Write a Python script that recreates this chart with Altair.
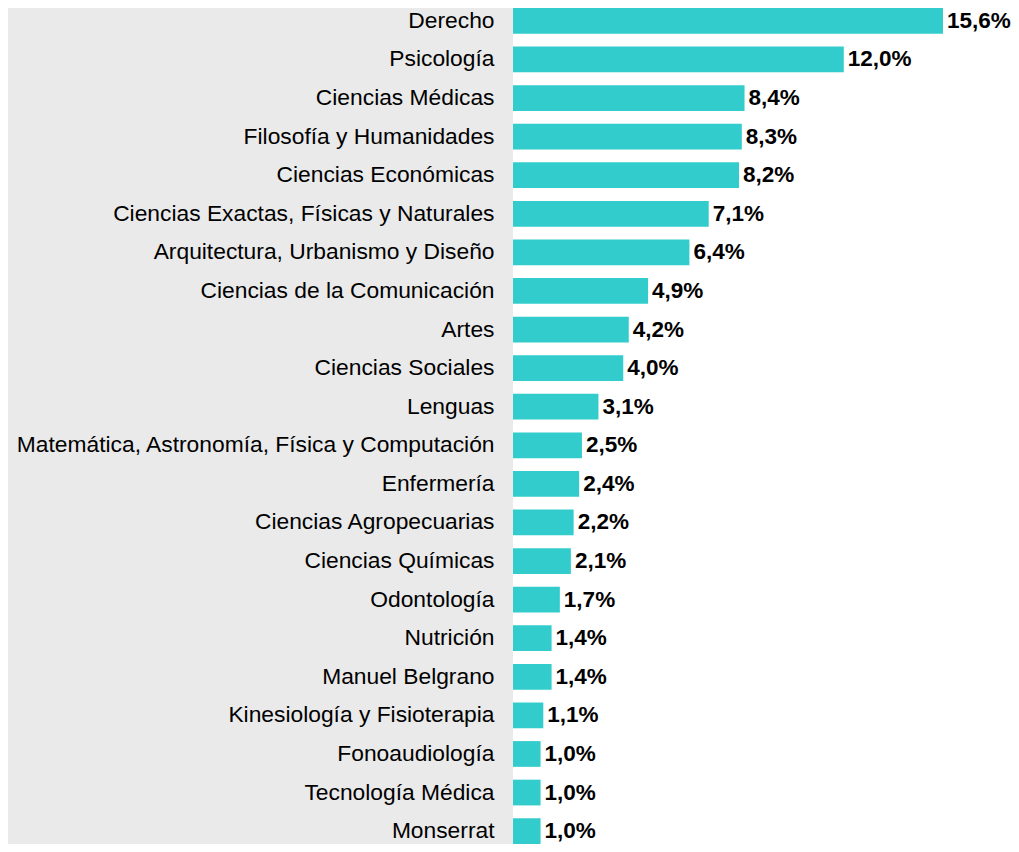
import altair as alt
import pandas as pd

categories = [
    "Derecho", "Psicología", "Ciencias Médicas", "Filosofía y Humanidades",
    "Ciencias Económicas", "Ciencias Exactas, Físicas y Naturales",
    "Arquitectura, Urbanismo y Diseño", "Ciencias de la Comunicación", "Artes",
    "Ciencias Sociales", "Lenguas", "Matemática, Astronomía, Física y Computación",
    "Enfermería", "Ciencias Agropecuarias", "Ciencias Químicas", "Odontología",
    "Nutrición", "Manuel Belgrano", "Kinesiología y Fisioterapia",
    "Fonoaudiología", "Tecnología Médica", "Monserrat",
]
values = [15.6, 12.0, 8.4, 8.3, 8.2, 7.1, 6.4, 4.9, 4.2, 4.0, 3.1, 2.5,
          2.4, 2.2, 2.1, 1.7, 1.4, 1.4, 1.1, 1.0, 1.0, 1.0]
labels = ["15,6%", "12,0%", "8,4%", "8,3%", "8,2%", "7,1%", "6,4%", "4,9%",
          "4,2%", "4,0%", "3,1%", "2,5%", "2,4%", "2,2%", "2,1%", "1,7%",
          "1,4%", "1,4%", "1,1%", "1,0%", "1,0%", "1,0%"]

df = pd.DataFrame({"cat": categories, "val": values, "lab": labels})

W = 498
H = 836
LEFT = 505
PX_PER_UNIT = 430 / 15.6

bg = alt.Chart(alt.Data(values=[{"a": 1}])).mark_rect(color="#EAEAEA").encode(
    x=alt.value(-LEFT), x2=alt.value(0), y=alt.value(-10), y2=alt.value(H + 20)
)

base = alt.Chart(df).encode(
    y=alt.Y(
        "cat:N",
        sort=categories,
        scale=alt.Scale(paddingInner=0.333, paddingOuter=0),
        axis=alt.Axis(
            title=None, domain=False, ticks=False, labelFontSize=22.8,
            labelFont="Liberation Sans", labelColor="#000000", labelPadding=19,
            labelLimit=0, zindex=1,
        ),
    ),
    x=alt.X("val:Q", scale=alt.Scale(domain=[0, W / PX_PER_UNIT], nice=False),
            axis=None),
)

bars = base.mark_bar(color="#33CCCC")
text = base.mark_text(
    align="left", dx=4, fontSize=22.5, fontWeight="bold",
    font="Liberation Sans", color="#000000",
).encode(text="lab:N")

chart = alt.layer(bg, bars, text).properties(
    width=W, height=H,
    padding={"left": LEFT, "top": 0, "right": 0, "bottom": 0},
    autosize=alt.AutoSizeParams(type="none"),
    background="white",
).configure_view(stroke=None)

chart.save("out.html", embed_options={"renderer": "svg", "actions": False})
